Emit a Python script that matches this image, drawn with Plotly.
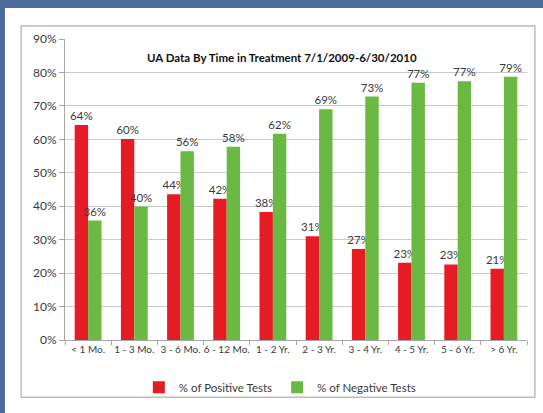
import plotly.graph_objects as go

# time in treatment groups
categories = ["< 1 Mo.", "1 - 3 Mo.", "3 - 6 Mo.", "6 - 12 Mo.", "1 - 2 Yr.",
              "2 - 3 Yr.", "3 - 4 Yr.", "4 - 5 Yr.", "5 - 6 Yr.", "> 6 Yr."]

# percent of UA tests per group
positive = [64.3, 60.1, 43.6, 42.2, 38.3, 31.0, 27.2, 23.1, 22.6, 21.3]
negative = [35.7, 39.9, 56.4, 57.8, 61.7, 69.0, 72.8, 76.9, 77.4, 78.7]

title = "UA Data By Time in Treatment 7/1/2009-6/30/2010"

font_family = "Lato"
txt_color = "#3a3a3a"
slide_blue = "#4a6b9c"

fig = go.Figure()
fig.add_trace(go.Bar(x=categories, y=positive, name="% of Positive Tests",
                     marker=dict(color="#e61c24", line_width=0),
                     texttemplate="%{y:.0f}%", textposition="outside",
                     textfont=dict(size=11.5, color=txt_color, family=font_family),
                     constraintext="none", cliponaxis=False))
fig.add_trace(go.Bar(x=categories, y=negative, name="% of Negative Tests",
                     marker=dict(color="#69b943", line_width=0),
                     texttemplate="%{y:.0f}%", textposition="outside",
                     textfont=dict(size=11.5, color=txt_color, family=font_family),
                     constraintext="none", cliponaxis=False))

# blue slide edge on the left and top (positions in plot-area fractions)
fig.add_shape(type="rect", xref="paper", yref="paper", x0=-0.5, x1=-0.13, y0=-0.5, y1=1.5,
              fillcolor=slide_blue, line_width=0, layer="below")
fig.add_shape(type="rect", xref="paper", yref="paper", x0=-0.5, x1=1.5, y0=1.103, y1=1.5,
              fillcolor=slide_blue, line_width=0, layer="below")
# grey chart border
fig.add_shape(type="rect", xref="paper", yref="paper", x0=-0.095, x1=1.017, y0=-0.19, y1=1.043,
              fillcolor="rgba(0,0,0,0)", line=dict(color="#bdbdbd", width=1.5), layer="below")

fig.add_annotation(text="<b>" + title + "</b>", xref="paper", yref="paper",
                   x=0.47, y=0.967, showarrow=False,
                   font=dict(size=11.5, color="#111111", family=font_family))

fig.update_layout(
    width=543, height=413,
    margin=dict(l=65, r=16, t=39, b=72),
    paper_bgcolor="white",
    plot_bgcolor="white",
    barmode="group",
    bargap=0.42,
    bargroupgap=0,
    font=dict(family=font_family, color=txt_color),
    showlegend=True,
    legend=dict(orientation="h", x=0.465, xanchor="center", y=-0.153, yanchor="middle",
                font=dict(size=11.5, color=txt_color), bgcolor="rgba(0,0,0,0)",
                itemwidth=30, tracegroupgap=0),
)
fig.update_yaxes(range=[0, 90], dtick=10, ticksuffix="%", showgrid=True,
                 gridcolor="#c8c8c8", gridwidth=1, showline=True, linecolor="#a6a6a6",
                 ticks="outside", ticklen=5, tickcolor="#a6a6a6",
                 tickfont=dict(size=12, color=txt_color), zeroline=False)
fig.update_xaxes(showline=True, linecolor="#a6a6a6", ticks="outside", ticklen=4,
                 tickcolor="#a6a6a6", tickson="boundaries", tickangle=0,
                 tickfont=dict(size=10, color=txt_color))

# page has a default body margin, drop it so the figure sits at the corner
fig.write_html("out.html", config={"displayModeBar": False},
               post_script="document.body.style.margin='0px';document.body.style.overflow='hidden';")
